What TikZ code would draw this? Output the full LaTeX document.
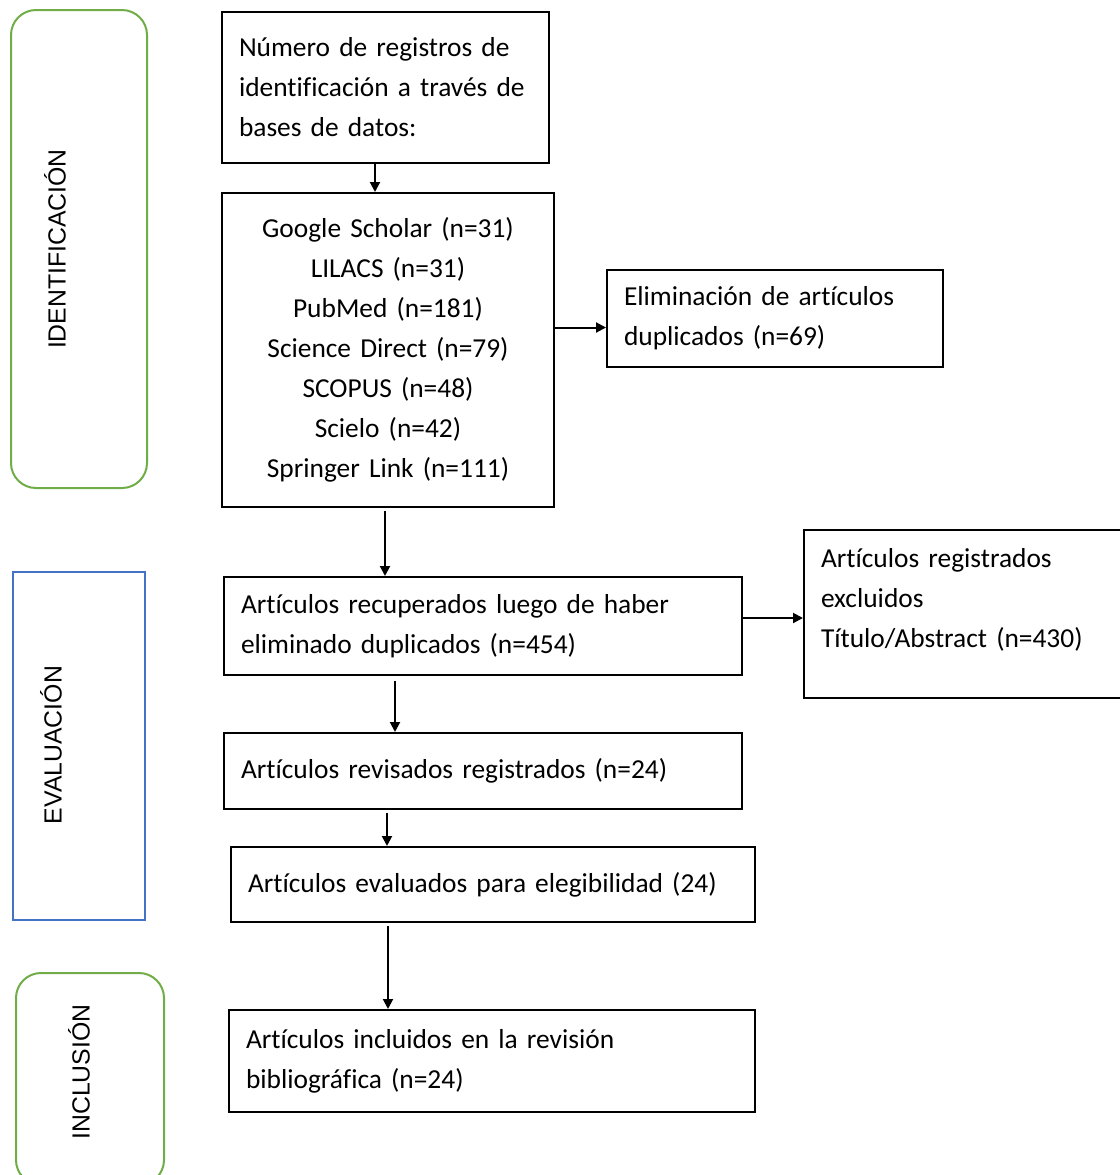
\documentclass[tikz,border=0pt]{standalone}
\usepackage{fontspec}
\setmainfont{Carlito}[Ligatures=NoCommon]
\newfontfamily\phasefont{Liberation Sans}
\usetikzlibrary{arrows.meta}
\definecolor{phasegreen}{HTML}{70AD47}
\definecolor{phaseblue}{HTML}{4472C4}
\begin{document}
\begin{tikzpicture}[x=0.5pt, y=-0.5pt,
    >={Triangle[length=5pt,width=5pt]},
    box/.style={draw, line width=1pt, inner xsep=8.5pt, align=left,
        font=\fontsize{13.7}{20}\selectfont},
    phase/.style={draw, line width=1pt, minimum width=#1},
    phaselabel/.style={rotate=90, font=\phasefont\fontsize{12.4}{14}\selectfont}]
        \useasboundingbox (0,0) rectangle (1120,1175);

        % Phases
        \node (ident) [phase=68pt, phasegreen, rounded corners=12.5pt, minimum height=239pt] at (79, 249) {};
        \node (identtxt) [phaselabel] at (55, 249) {IDENTIFICACIÓN};
        \node (evalu) [phase=66pt, phaseblue, minimum height=174pt] at (79, 746) {};
        \node (evalutxt) [phaselabel] at (51, 745) {EVALUACIÓN};
        \node (inclu) [phase=74pt, phasegreen, rounded corners=12.5pt, minimum height=106pt] at (90, 1079) {};
        \node (inclutxt) [phaselabel] at (79, 1072) {INCLUSIÓN};

        % Nodes
        \node (reg) [box, text width=146.5pt, minimum height=75.5pt] at (385.5, 87.5)
            {Número de registros de\\ identificación a través de\\ bases de datos:};
        \node (db) [box, align=center, text width=149pt, minimum height=157pt] at (388, 350)
            {Google Scholar (n=31)\\ LILACS (n=31)\\ PubMed (n=181)\\ Science Direct (n=79)\\ SCOPUS (n=48)\\ Scielo (n=42)\\ Springer Link (n=111)};
        \node (dup) [box, text width=151pt, minimum height=48.5pt] at (775, 318.5)
            {Eliminación de artículos\\ duplicados (n=69)};
        \node (rec) [box, text width=242pt, minimum height=49pt] at (483, 626)
            {Artículos recuperados luego de haber\\ eliminado duplicados (n=454)};
        \node (exc) [box, text width=143.5pt, text depth=56pt, minimum height=84pt] at (964.5, 614)
            {Artículos registrados\\ excluidos\\ Título/Abstract (n=430)};
        \node (rev) [box, text width=242pt, minimum height=38pt] at (483, 771)
            {Artículos revisados registrados (n=24)};
        \node (ele) [box, text width=245pt, minimum height=37.5pt] at (493, 884.5)
            {Artículos evaluados para elegibilidad (24)};
        \node (inc) [box, text width=246pt, minimum height=51pt] at (492, 1061)
            {Artículos incluidos en la revisión\\ bibliográfica (n=24)};

        % Edges
        \draw[->, line width=1pt] ([xshift=-5.25pt]reg.south) -- ([xshift=-5.25pt]reg.south |- db.north);
        \draw[->, line width=1pt] ([yshift=-4.5pt]dup.west -| db.east) -- ([yshift=-4.5pt]dup.west);
        \draw[->, line width=1pt] ([xshift=-1.5pt,yshift=-1.5pt]db.south) -- ([xshift=-1.5pt]db.south |- rec.north);
        \draw[->, line width=1pt] ([yshift=-2pt]exc.west -| rec.east) -- ([yshift=-2pt]exc.west);
        \draw[->, line width=1pt] ([xshift=-44pt,yshift=-2.5pt]rec.south) -- ([xshift=-44pt]rec.south |- rev.north);
        \draw[->, line width=1pt] ([xshift=-48pt,yshift=-1.5pt]rev.south) -- ([xshift=-48pt]rev.south |- ele.north);
        \draw[->, line width=1pt] ([xshift=-52.5pt,yshift=-1.5pt]ele.south) -- ([xshift=-52.5pt]ele.south |- inc.north);
    \end{tikzpicture}
\end{document}
